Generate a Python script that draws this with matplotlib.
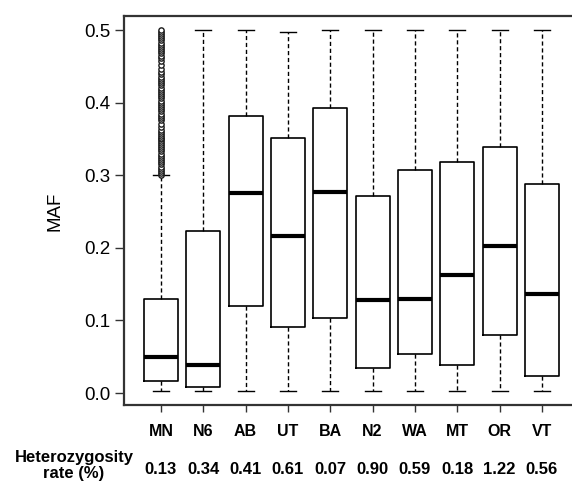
import matplotlib
matplotlib.use("Agg")
import matplotlib.pyplot as plt
import matplotlib.transforms as mtransforms

plt.rcParams['font.family'] = ['Liberation Sans', 'DejaVu Sans']

# populations and their box statistics
pops = ["MN", "N6", "AB", "UT", "BA", "N2", "WA", "MT", "OR", "VT"]
het_rate = ["0.13", "0.34", "0.41", "0.61", "0.07", "0.90", "0.59", "0.18", "1.22", "0.56"]
medians = [0.049, 0.038, 0.275, 0.216, 0.277, 0.128, 0.130, 0.162, 0.202, 0.136]
q1 = [0.016, 0.008, 0.120, 0.091, 0.104, 0.035, 0.054, 0.039, 0.080, 0.023]
q3 = [0.129, 0.223, 0.382, 0.352, 0.393, 0.271, 0.307, 0.318, 0.339, 0.288]
whis_lo = [0.003, 0.003, 0.003, 0.003, 0.003, 0.003, 0.003, 0.003, 0.003, 0.003]
whis_hi = [0.300, 0.500, 0.500, 0.497, 0.500, 0.500, 0.500, 0.500, 0.500, 0.500]

# MN outliers, a dense column between 0.30 and 0.50
mn_outliers = [0.301, 0.303, 0.306, 0.309, 0.312, 0.315, 0.318, 0.321, 0.324, 0.327, 0.330,
               0.333, 0.336, 0.339, 0.342, 0.345, 0.348, 0.350, 0.352, 0.354, 0.357, 0.360,
               0.363, 0.366, 0.371, 0.376, 0.379, 0.382, 0.385, 0.388, 0.391, 0.394,
               0.397, 0.400, 0.403, 0.406, 0.409, 0.412, 0.415, 0.418, 0.421, 0.424,
               0.427, 0.430, 0.433, 0.436, 0.439, 0.442, 0.447, 0.452, 0.458, 0.462,
               0.465, 0.468, 0.471, 0.474, 0.477, 0.480, 0.483, 0.486, 0.489, 0.492,
               0.495, 0.498, 0.500]

stats = []
for i, name in enumerate(pops):
    stats.append({
        "label": name,
        "med": medians[i],
        "q1": q1[i],
        "q3": q3[i],
        "whislo": whis_lo[i],
        "whishi": whis_hi[i],
        "fliers": mn_outliers if name == "MN" else [],
    })

fig = plt.figure(figsize=(5.72, 4.83), dpi=100)
# right edge of the frame runs past the image, like the original
ax = fig.add_axes([124/572, 78/483, 456/572, 389.3/483])

ax.bxp(stats, positions=range(1, 11), widths=0.8, capwidths=0.38,
       boxprops=dict(color="black", linewidth=1.2),
       medianprops=dict(color="black", linewidth=3),
       whiskerprops=dict(color="black", linewidth=1, linestyle=(0, (3, 2))),
       capprops=dict(color="black", linewidth=1),
       flierprops=dict(marker="o", markersize=3.8, markerfacecolor="white",
                       markeredgecolor="#1a1a1a", markeredgewidth=1.0))

ax.set_xlim(0.126, 10.9)
ax.set_ylim(-0.0165, 0.52)

ax.set_yticks([0.0, 0.1, 0.2, 0.3, 0.4, 0.5])
ax.set_yticklabels(["0.0", "0.1", "0.2", "0.3", "0.4", "0.5"], fontsize=13.5)
ax.tick_params(axis="y", length=6.5, width=1, pad=3, color="#333333")
ax.set_xticks(range(1, 11))
ax.set_xticklabels(pops, fontsize=11.5, fontweight="bold")
ax.tick_params(axis="x", length=5, width=1, pad=8.5, color="#333333")

for side in ax.spines.values():
    side.set_linewidth(1.6)
    side.set_color("#333333")

fig.text(55/572, 0.563, "MAF", rotation=90, ha="center", va="center", fontsize=13.5)

# heterozygosity row under the population names
fig.text(74/572, 0.036, "Heterozygosity\nrate (%)", ha="center", va="center",
         fontsize=12, fontweight="bold", linespacing=1.1)
row = mtransforms.blended_transform_factory(ax.transData, fig.transFigure)
for i, val in enumerate(het_rate):
    ax.text(i + 1, 0.027, val, ha="center", va="center", fontsize=12,
            fontweight="bold", transform=row, clip_on=False)

fig.savefig("out.png", dpi=100)
